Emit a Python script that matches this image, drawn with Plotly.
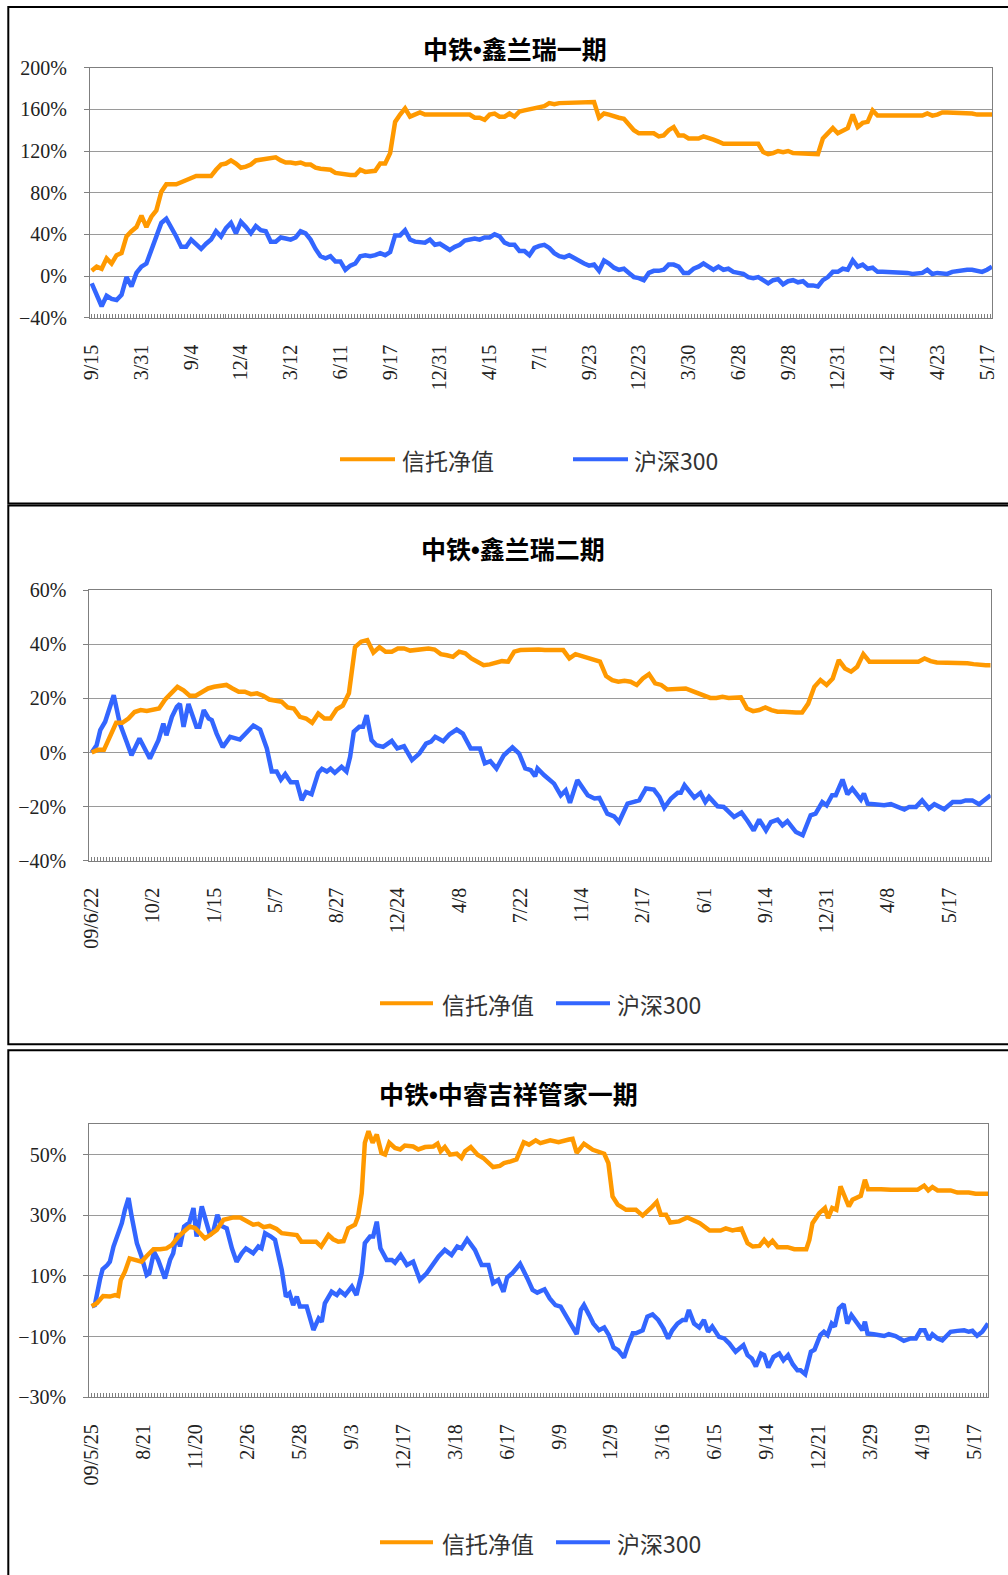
import plotly.graph_objects as go

W, H = 1008, 1575

def px(x):
    return x / W

def py(y):
    return 1 - y / H

ORANGE = "#FF9900"
BLUE = "#3366FF"
SERIES_NAMES = ["信托净值", "沪深300"]

# ---------------- Panel 1: 中铁•鑫兰瑞一期 ----------------
p1_title = ["中铁", "•", "鑫兰瑞一期"]
p1_y_ticks = [-40, 0, 40, 80, 120, 160, 200]
p1_tick_pos = [0, 10, 20, 30, 40, 50, 60, 70, 80, 90, 100, 110, 120, 130, 140, 150, 160, 170, 180]
p1_tick_text = ["9/15", "3/31", "9/4", "12/4", "3/12", "6/11", "9/17", "12/31", "4/15", "7/1",
                "9/23", "12/23", "3/30", "6/28", "9/28", "12/31", "4/12", "4/23", "5/17"]
p1_x = list(range(0, 182))
p1_trust = [
    5, 9, 7, 17, 12, 20, 22, 38, 43, 47,
    58, 47, 57, 63, 81, 88, 88, 88, 90, 92,
    94, 96, 96, 96, 96, 102, 107, 108, 111, 108,
    104, 105, 107, 111, 112, 112, 113, 114, 111, 109,
    109, 108, 109, 107, 107, 104, 103, 102, 102, 99,
    98, 98, 97, 97, 102, 100, 100, 101, 108, 108,
    118, 148, 155, 161, 153, 155, 157, 155, 155, 155,
    155, 155, 155, 155, 155, 156, 155, 152, 152, 150,
    155, 156, 153, 153, 156, 153, 158, 159, 160, 161,
    162, 163, 166, 165, 166, 166, 166, 166, 166, 166,
    166, 167, 152, 156, 155, 153, 152, 151, 145, 140,
    137, 137, 138, 137, 134, 135, 140, 143, 135, 135,
    132, 132, 132, 134, 133, 131, 129, 127, 127, 127,
    127, 127, 127, 127, 127, 119, 117, 118, 120, 119,
    120, 118, 118, 117, 117, 117, 117, 132, 137, 142,
    137, 140, 142, 155, 143, 147, 148, 159, 154, 154,
    154, 154, 154, 154, 154, 154, 154, 154, 156, 154,
    155, 157, 157, 157, 157, 156, 156, 156, 155, 155,
    155, 155,
]
p1_hs300 = [
    -7, -17, -29, -19, -22, -23, -18, -1, -10, 3,
    9, 12, 25, 38, 51, 55, 47, 38, 28, 28,
    35, 31, 26, 31, 35, 43, 38, 46, 51, 41,
    52, 47, 41, 48, 44, 43, 33, 33, 37, 36,
    35, 37, 43, 41, 35, 26, 19, 17, 19, 14,
    14, 6, 10, 12, 19, 20, 19, 20, 22, 20,
    23, 39, 39, 44, 35, 33, 33, 32, 35, 30,
    31, 28, 25, 28, 30, 34, 35, 36, 35, 37,
    37, 40, 38, 32, 30, 30, 24, 24, 20, 27,
    29, 30, 27, 22, 19, 18, 20, 17, 15, 12,
    10, 11, 5, 15, 12, 8, 6, 7, 3, -1,
    -2, -4, 3, 5, 5, 6, 11, 11, 9, 3,
    3, 7, 9, 12, 9, 6, 9, 6, 7, 4,
    3, 2, -1, -2, -1, -4, -7, -4, -3, -8,
    -5, -4, -6, -5, -9, -9, -10, -4, -1, 4,
    4, 7, 6, 15, 9, 11, 7, 8, 4, 4,
    4, 4, 4, 3, 3, 2, 2, 3, 6, 2,
    3, 3, 2, 4, 5, 6, 6, 6, 5, 4,
    6, 9,
]

# ---------------- Panel 2: 中铁•鑫兰瑞二期 ----------------
p2_title = ["中铁", "•", "鑫兰瑞二期"]
p2_y_ticks = [-40, -20, 0, 20, 40, 60]
p2_tick_pos = [0, 10, 20, 30, 40, 50, 60, 70, 80, 90, 100, 110, 120, 130, 140]
p2_tick_text = ["09/6/22", "10/2", "1/15", "5/7", "8/27", "12/24", "4/8", "7/22",
                "11/4", "2/17", "6/1", "9/14", "12/31", "4/8", "5/17"]
p2_trust_x = list(range(0, 147)) + [146.8]
p2_trust = [
    0, 1, 1, 6, 11, 11, 12.6, 15, 15.7, 15.4,
    15.7, 16.3, 19.6, 22, 24.3, 23, 21, 21, 22.5, 23.7,
    24.3, 24.7, 25, 23.7, 22.5, 22.5, 21.6, 21.9, 21, 19.6,
    19.4, 18.8, 16.7, 16.3, 13.2, 12.6, 11, 14.4, 12.6, 12.6,
    16, 17.3, 21.9, 39, 41, 41.6, 37, 39, 37.3, 37.3,
    38.5, 38.5, 37.7, 37.9, 38.3, 38.5, 38.1, 36.4, 36, 35.4,
    37.3, 36.7, 34.8, 33.6, 32.3, 32.6, 33.2, 33.8, 33.6, 37.3,
    37.9, 38.1, 37.9, 38.1, 37.9, 37.7, 37.9, 37.9, 34.8, 36.4,
    35.7, 35.1, 34.4, 33.6, 28.3, 26.8, 26.2, 26.5, 26.2, 25,
    27.4, 29, 25.6, 25, 23.3, 23.3, 23.3, 23.7, 22.8, 21.9,
    20.9, 20.2, 20.2, 20.6, 20.2, 20.4, 20.4, 16.3, 15.3, 15.7,
    16.7, 15.7, 15.1, 15.1, 14.8, 14.8, 14.8, 18.1, 24.3, 26.8,
    25, 27.4, 34.2, 31.1, 29.9, 31.7, 36.4, 33.6, 33.6, 33.6,
    33.6, 33.6, 33.6, 33.6, 33.6, 33.6, 34.8, 33.8, 33.3, 33.3,
    33.3, 33, 33, 33, 32.7, 32.3, 32.3,
    32.3,
]
p2_hs_x = [
    0, 0.8, 1.4, 2.2, 3.6, 4.6, 5.7, 6.5, 7.8, 9.5,
    10.9, 11.7, 12.2, 13.1, 13.9, 14.4, 15.0, 15.8, 17.1, 17.6,
    18.3, 19.1, 19.6, 20.4, 21.4, 22.6, 24.2, 25.2, 26.4, 27.5,
    28.6, 29.4, 30.2, 30.9, 31.6, 32.5, 33.5, 34.3, 35.0, 35.9,
    37.0, 37.6, 38.4, 39.0, 39.7, 40.8, 41.6, 42.2, 42.8, 43.7,
    44.3, 44.9, 45.7, 46.5, 47.6, 49.0, 49.9, 51.0, 52.3, 53.5,
    54.6, 55.4, 56.1, 57.4, 58.4, 59.6, 60.6, 61.9, 63.4, 64.2,
    65.1, 66.1, 67.0, 67.3, 68.7, 69.8, 70.8, 71.7, 72.4, 72.8,
    73.9, 75.5, 76.6, 77.4, 78.1, 79.3, 81.0, 82.1, 82.9, 84.2,
    85.3, 86.1, 87.5, 88.8, 89.4, 90.5, 91.8, 92.7, 93.5, 94.6,
    95.7, 96.2, 96.8, 98.4, 99.4, 100.2, 100.8, 102.2, 103.2, 104.9,
    106.1, 107.1, 108.1, 109.0, 110.1, 110.9, 112.0, 112.8, 113.6, 115.0,
    116.1, 117.4, 118.2, 119.3, 120.0, 120.9, 121.5, 122.6, 123.4, 124.2,
    125.6, 126.1, 126.7, 127.8, 129.4, 130.5, 131.6, 132.7, 133.5, 134.6,
    135.6, 136.7, 137.6, 139.2, 140.6, 141.9, 142.7, 143.8, 144.9, 146.8,
]
p2_hs300 = [
    0, 2.7, 8.3, 11.4, 21.2, 10.7, 4, -1, 5.2, -2.2,
    4.6, 10.7, 6.4, 13.2, 16.9, 18, 9.5, 18, 9.5, 9.5,
    15.7, 12.6, 12, 7, 2, 5.8, 4.8, 7, 10, 8.5,
    1.5, -7, -7, -10, -8, -11, -11, -17.6, -14.6, -15.4,
    -7.5, -6, -7, -6, -7.5, -5.3, -7, -1.6, 7.7, 9.5,
    9.5, 13.8, 4.6, 2.7, 2.1, 4.3, 1.5, 2.3, -2.8, -0.4,
    3.3, 4, 5.8, 4.2, 6.7, 8.5, 7, 1.5, 1.5, -4,
    -3.2, -5.9, -1.9, -1, 1.9, -0.4, -5.9, -6.5, -8.8, -5.9,
    -8.4, -11.5, -15.8, -14, -18.6, -10.2, -15.8, -17, -16.8, -22.6,
    -23.6, -25.7, -18.9, -18.3, -17.7, -13.3, -13.7, -16.4, -20.4, -17,
    -14.9, -14.9, -12.1, -16.7, -14.9, -18.3, -16.4, -19.9, -20.1, -23.8,
    -22.2, -25.3, -28.8, -24.8, -28.8, -25.7, -24.8, -26.9, -25.4, -29.4,
    -30.6, -23.2, -22.6, -18.3, -19.5, -15.8, -15.8, -10, -15.4, -13.3,
    -17.4, -15.2, -18.9, -19.1, -19.5, -19.1, -19.9, -21.1, -20.1, -20.1,
    -17.7, -20.7, -19.1, -21, -18.3, -18.3, -17.7, -17.7, -19.1, -15.8,
]

# ---------------- Panel 3: 中铁•中睿吉祥管家一期 ----------------
p3_title = ["中铁", "•", "中睿吉祥管家一期"]
p3_y_ticks = [-30, -10, 10, 30, 50]
p3_tick_pos = [0, 10, 20, 30, 40, 50, 60, 70, 80, 90, 100, 110, 120, 130, 140, 150, 160, 170]
p3_tick_text = ["09/5/25", "8/21", "11/20", "2/26", "5/28", "9/3", "12/17", "3/18", "6/17",
                "9/9", "12/9", "3/16", "6/15", "9/14", "12/21", "3/29", "4/19", "5/17"]
p3_trust_x = [
    0, 1.0, 2.2, 3.5, 4.5, 5.1, 5.6, 6.4, 7.3, 8.7,
    9.6, 10.6, 11.9, 13.2, 14.4, 15.4, 16.7, 18.0, 18.9, 19.9,
    20.9, 21.8, 22.8, 24.1, 25.4, 27.3, 28.6, 29.8, 31.1, 32.1,
    33.1, 34.3, 35.6, 36.6, 38.2, 39.5, 40.4, 41.7, 43.2, 44.2,
    45.6, 46.5, 47.5, 48.5, 49.4, 50.7, 51.3, 52.0, 52.6, 53.3,
    54.1, 54.9, 55.8, 56.5, 57.3, 58.4, 59.4, 60.3, 61.9, 62.9,
    64.2, 65.8, 66.6, 67.2, 68.0, 69.0, 70.3, 71.2, 71.9, 73.0,
    74.3, 75.4, 76.4, 77.3, 78.6, 79.4, 80.7, 81.8, 83.2, 84.2,
    85.5, 86.4, 88.3, 89.9, 91.9, 92.6, 93.4, 94.8, 96.5, 98.7,
    99.5, 100.3, 101.3, 102.9, 104.8, 106.1, 107.7, 108.8, 109.6, 110.6,
    111.4, 113.1, 114.7, 117.1, 119.0, 121.1, 122.1, 123.4, 125.1, 126.3,
    127.3, 128.6, 129.5, 130.3, 131.1, 132.1, 134.0, 135.3, 137.6, 138.2,
    138.8, 140.1, 141.2, 141.8, 142.6, 143.4, 144.2, 144.9, 145.8, 146.5,
    148.1, 148.9, 149.5, 152.0, 153.9, 159.0, 160.3, 161.1, 161.9, 162.9,
    165.4, 166.7, 168.9, 170.2, 172.6,
]
p3_trust = [
    0, 1, 3.4, 3.2, 3.7, 3.4, 8.7, 11.4, 15.8, 15.3,
    14.7, 16.6, 18.8, 18.8, 19.1, 20.2, 23, 25, 26.3, 25.8,
    24.1, 22.4, 23.5, 25.2, 28.5, 29.3, 29.3, 28, 26.9, 27.2,
    26.1, 26.5, 25.5, 24.1, 23.8, 23.5, 21.3, 21.3, 21.3, 19.7,
    23.5, 22.1, 21.3, 21.5, 25.7, 26.9, 29.6, 37.3, 53.9, 57.7,
    53.9, 56.6, 50.5, 50, 53.9, 52.2, 51.7, 53, 52.7, 51.7,
    52.5, 52.7, 53.6, 51.1, 52.5, 50, 50.3, 48.9, 51.1, 52.5,
    50, 48.9, 47.5, 45.9, 46.3, 47.2, 47.8, 48.4, 54.1, 53.3,
    54.7, 53.8, 54.7, 54.1, 55, 55.2, 50.6, 53.6, 51.6, 50.3,
    47.2, 36.2, 33.5, 31.8, 31.8, 29.9, 32.4, 34.4, 30.2, 30.2,
    27.6, 28, 29.3, 27.4, 25, 25, 25.7, 25, 25.6, 20.8,
    19.7, 19.9, 21.9, 20.2, 21.6, 19.5, 19.5, 18.8, 18.8, 21.9,
    27.4, 30.7, 32.4, 29.1, 32.4, 31.8, 39.5, 36.8, 32.9, 35.1,
    36.4, 41.7, 38.6, 38.6, 38.4, 38.4, 39.8, 38.2, 39.3, 38.2,
    38.2, 37.5, 37.5, 37.1, 37.1,
]
p3_hs_x = [
    0, 0.6, 1.6, 2.1, 3.0, 3.5, 4.2, 4.9, 5.8, 6.4,
    7.1, 7.7, 8.7, 9.6, 10.6, 11.1, 12.0, 12.8, 14.1, 15.1,
    15.7, 16.4, 17.0, 17.8, 18.8, 19.6, 20.2, 21.2, 21.8, 22.8,
    23.4, 24.2, 25.0, 26.0, 27.0, 27.9, 28.9, 29.7, 31.1, 32.1,
    32.7, 33.4, 34.5, 35.3, 36.6, 37.4, 38.1, 38.8, 39.5, 40.1,
    41.4, 42.7, 43.7, 44.3, 44.9, 46.2, 47.2, 47.8, 48.8, 50.1,
    51.0, 52.0, 52.6, 53.6, 54.2, 54.9, 55.6, 56.8, 57.8, 58.4,
    59.5, 60.7, 61.9, 63.2, 64.5, 65.8, 66.8, 68.0, 69.3, 70.4,
    71.2, 72.3, 73.8, 75.1, 76.4, 77.3, 78.3, 79.3, 80.0, 81.0,
    82.5, 83.9, 84.9, 85.8, 87.2, 88.2, 89.3, 90.3, 91.6, 92.5,
    93.4, 94.2, 94.8, 95.8, 96.6, 97.7, 98.7, 99.6, 100.5, 101.4,
    102.5, 103.3, 104.2, 104.8, 106.1, 107.0, 108.0, 109.1, 110.1, 111.0,
    111.8, 112.8, 113.8, 114.4, 115.0, 116.0, 117.0, 117.9, 118.7, 119.5,
    120.8, 121.8, 122.8, 124.0, 125.5, 126.3, 127.1, 127.9, 128.9, 129.5,
    130.3, 131.3, 132.4, 133.2, 134.1, 135.0, 135.9, 136.5, 137.4, 138.5,
    139.2, 140.3, 141.0, 141.7, 142.5, 143.1, 143.9, 144.8, 145.5, 146.3,
    147.3, 148.4, 148.9, 149.4, 150.6, 152.6, 153.5, 154.8, 156.4, 157.7,
    158.7, 159.6, 160.4, 161.2, 161.9, 162.9, 163.8, 165.4, 166.7, 168.0,
    168.9, 169.6, 170.5, 171.5, 172.6,
]
p3_hs300 = [
    0, 0.4, 8.9, 12.2, 13.6, 14.7, 19.7, 23, 27.4, 31.8,
    35.7, 29.6, 20.8, 16.4, 10.3, 10.9, 18, 15.3, 9.2, 15.3,
    17.5, 24.1, 19.7, 26.3, 27.6, 32.4, 23, 32.9, 29.6, 23.5,
    24.6, 30.2, 26.5, 25.7, 19.1, 14.7, 17.5, 19.1, 17.5, 19.7,
    19.1, 24.1, 23, 21.9, 12, 3.2, 4.3, 0.4, 3.2, -0.1,
    -0.1, -7.8, -4, -5.1, 1, 4.8, 3.7, 5.1, 3.7, 6.5,
    3.7, 10.9, 20.8, 23, 23, 27.9, 19.1, 15.3, 15.3, 14.4,
    16.9, 13.6, 14.7, 8.7, 10.9, 14.2, 16.4, 18.6, 16.9, 19.7,
    19.1, 22.1, 18.6, 13.6, 13.6, 7.6, 8.7, 4.8, 9.5, 10.9,
    14, 9.2, 5.4, 4.5, 5.6, 2.6, 0.4, -0.1, -3.7, -6.2,
    -9.2, -1.2, 0.4, -2.9, -5.7, -7.9, -7, -9.5, -13.6, -14.5,
    -16.9, -12.8, -8.9, -8.9, -7.9, -3.4, -2.7, -4.5, -7.3, -10.6,
    -7.9, -5.7, -4.5, -4.5, -1.2, -5.7, -7, -4.5, -8.4, -6.7,
    -10.1, -10.6, -12.3, -15, -12.8, -16.1, -17.2, -19.8, -15.6, -16.1,
    -20.2, -16.7, -15.6, -17.8, -16.1, -19.1, -21.1, -21.1, -22.4, -15,
    -14.3, -9.5, -8.4, -9.5, -5.7, -6.7, -0.7, 0.7, -5.7, -2.9,
    -5.1, -7.9, -5.1, -9, -9.2, -9.8, -9.2, -9.8, -11.4, -10.6,
    -10.6, -7.9, -7.9, -11, -9.2, -10.6, -11.2, -8.4, -8.1, -7.9,
    -8.4, -8.1, -9.7, -8.4, -5.7,
]

# ---------------- figure ----------------
fig = go.Figure()

panels = [
    dict(xa="x", ya="y", trust_x=p1_x, trust=p1_trust, hs_x=p1_x, hs=p1_hs300),
    dict(xa="x2", ya="y2", trust_x=p2_trust_x, trust=p2_trust, hs_x=p2_hs_x, hs=p2_hs300),
    dict(xa="x3", ya="y3", trust_x=p3_trust_x, trust=p3_trust, hs_x=p3_hs_x, hs=p3_hs300),
]
for p in panels:
    fig.add_trace(go.Scatter(x=p["hs_x"], y=p["hs"], mode="lines", name=SERIES_NAMES[1],
                             line=dict(color=BLUE, width=4.5), xaxis=p["xa"], yaxis=p["ya"],
                             showlegend=False))
    fig.add_trace(go.Scatter(x=p["trust_x"], y=p["trust"], mode="lines", name=SERIES_NAMES[0],
                             line=dict(color=ORANGE, width=4.5), xaxis=p["xa"], yaxis=p["ya"],
                             showlegend=False))

TICK_FONT = dict(family="Liberation Serif, serif", size=20, color="#222222")
AX_COLOR = "#7f7f7f"

def pct_label(v):
    return ("\u2212" + str(abs(v)) if v < 0 else str(v)) + "%"

def xaxis_cfg(dom, rng, tickpos, ticktext, anchor, minor_dt):
    return dict(domain=dom, range=rng, anchor=anchor, automargin=False,
                tickmode="array", tickvals=tickpos,
                ticktext=ticktext, tickangle=-90, ticks="", showgrid=False, zeroline=False,
                showline=True, linecolor=AX_COLOR, linewidth=1, mirror=True,
                tickfont=TICK_FONT, ticklabelstandoff=18,
                minor=dict(tickmode="linear", tick0=0, dtick=minor_dt, ticks="inside",
                           ticklen=4, tickwidth=1, tickcolor=AX_COLOR, showgrid=False))

def yaxis_cfg(dom, rng, ticks, anchor):
    return dict(domain=dom, range=rng, anchor=anchor, automargin=False,
                tickmode="array", tickvals=ticks, ticktext=[pct_label(v) for v in ticks],
                ticks="outside", ticklen=5, tickcolor=AX_COLOR, showgrid=True,
                gridcolor="#9a9a9a", gridwidth=1, zeroline=False, showline=True,
                linecolor=AX_COLOR, linewidth=1, mirror=True,
                tickfont=TICK_FONT, ticklabelstandoff=13)

fig.update_layout(
    template="none",
    width=W, height=H, autosize=False,
    margin=dict(l=0, r=0, t=0, b=0, pad=0),
    paper_bgcolor="white", plot_bgcolor="white",
    showlegend=False,
    xaxis=xaxis_cfg([px(90), px(992)], [-0.34, 181], p1_tick_pos, p1_tick_text, "y", 0.6),
    yaxis=yaxis_cfg([py(317.7), py(67.7)], [-40, 200], p1_y_ticks, "x"),
    xaxis2=xaxis_cfg([px(89.3), px(990.7)], [-0.39, 146.8], p2_tick_pos, p2_tick_text, "y2", 0.49),
    yaxis2=yaxis_cfg([py(860.7), py(590.3)], [-40, 60], p2_y_ticks, "x2"),
    xaxis3=xaxis_cfg([px(89.3), px(988)], [-0.46, 172.6], p3_tick_pos, p3_tick_text, "y3", 0.58),
    yaxis3=yaxis_cfg([py(1397.3), py(1124.3)], [-30, 60], p3_y_ticks, "x3"),
)

shapes = []
# panel frames
for (y0, y1) in [(7, 503.5), (505.5, 1044.3), (1050.3, 1600)]:
    shapes.append(dict(type="rect", xref="paper", yref="paper", x0=px(8.3), x1=px(1030),
                       y0=py(y1), y1=py(y0), line=dict(color="black", width=2),
                       fillcolor="rgba(0,0,0,0)", layer="above"))

annotations = []
titles = [(p1_title, 514.5, 48), (p2_title, 512.5, 548), (p3_title, 508.5, 1092.7)]
for t, cx, cy in titles:
    txt = ("<b>" + t[0] + "<span style='font-family:Liberation Sans'>" + t[1] + "</span>"
           + t[2] + "</b>")
    annotations.append(dict(text=txt, xref="paper", yref="paper", x=px(cx), y=py(cy),
                            xanchor="center", yanchor="middle", showarrow=False,
                            font=dict(family="Noto Sans CJK SC", size=25, color="black")))

legends = [
    (459.3, (340, 395, 400), (573, 628, 632)),
    (1003.3, (380, 433, 440), (556, 610, 615)),
    (1542.3, (380, 433, 440), (556, 610, 615)),
]
for ly, o, b in legends:
    for (x0, x1, tx), col, name in [(o, ORANGE, SERIES_NAMES[0]), (b, BLUE, SERIES_NAMES[1])]:
        shapes.append(dict(type="line", xref="paper", yref="paper", x0=px(x0), x1=px(x1),
                           y0=py(ly), y1=py(ly), line=dict(color=col, width=4)))
        annotations.append(dict(text=name, xref="paper", yref="paper", x=px(tx), y=py(ly + 1),
                                xanchor="left", yanchor="middle", showarrow=False,
                                font=dict(family="Noto Sans CJK SC", size=23, color="#333333")))

fig.update_layout(shapes=shapes, annotations=annotations)
fig.write_html(
    "out.html",
    config={"displayModeBar": False},
    post_script="document.body.style.margin='0';document.body.style.overflow='hidden';",
)
